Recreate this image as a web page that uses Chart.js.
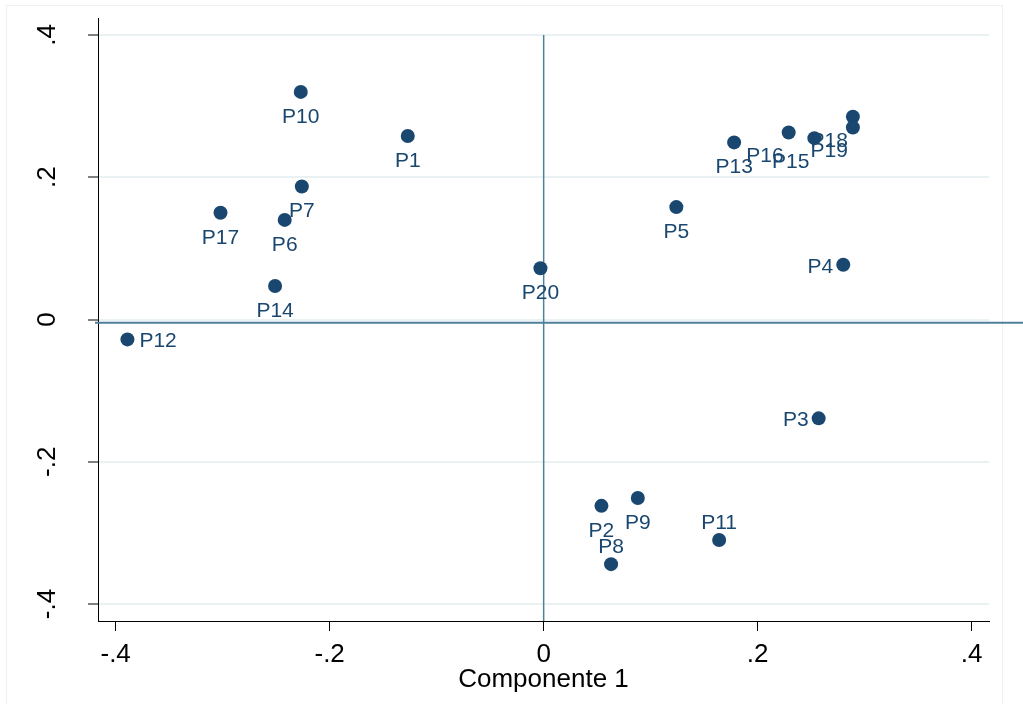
<!DOCTYPE html>
<html>
<head>
<meta charset="utf-8">
<script src="https://cdn.jsdelivr.net/npm/chart.js@4"></script>
<style>
  html, body { margin: 0; padding: 0; background: #ffffff; }
  #wrap { width: 1023px; height: 704px; }
</style>
</head>
<body>
<div id="wrap"><canvas id="c" width="1023" height="704"></canvas></div>
<script>
// ---- data ----
const pointLabels = ['P1','P2','P3','P4','P5','P6','P7','P8','P9','P10',
                     'P11','P12','P13','P14','P15','P16','P17','P18','P19','P20'];
const comp1 = [-0.127, 0.054, 0.257, 0.280, 0.124, -0.242, -0.226, 0.063, 0.088, -0.227,
                0.164, -0.389, 0.178, -0.251, 0.253, 0.229, -0.302, 0.289, 0.289, -0.003];
const comp2 = [0.258, -0.262, -0.139, 0.077, 0.158, 0.140, 0.187, -0.344, -0.251, 0.320,
               -0.310, -0.028, 0.249, 0.047, 0.255, 0.263, 0.150, 0.285, 0.270, 0.072];
// label position (clock style): 3 right, 6 below, 7 lower-left, 9 left, 12 above
const labelPos = [6, 6, 9, 9, 6, 6, 6, 12, 6, 6,
                  12, 3, 6, 6, 7, 7, 6, 7, 7, 6];
const xTicks = [-0.4, -0.2, 0, 0.2, 0.4];
const xTickLabels = ['-.4', '-.2', '0', '.2', '.4'];
const yTicks = [-0.4, -0.2, 0, 0.2, 0.4];
const yTickLabels = ['-.4', '-.2', '0', '.2', '.4'];
const xTitle = 'Componente 1';
const xRefLine = 0;
const yRefLine = -0.0046;

const NAVY = '#1a476f';
const FONT = "'Liberation Sans', Arial, sans-serif";

const points = comp1.map((x, i) => ({ x: x, y: comp2[i] }));

const stataPlugin = {
  id: 'stata',
  beforeDraw(chart) {
    const ctx = chart.ctx;
    ctx.save();
    ctx.fillStyle = '#ffffff';
    ctx.fillRect(0, 0, chart.width, chart.height);
    ctx.strokeStyle = '#f0f0f0';
    ctx.lineWidth = 1;
    ctx.strokeRect(6.5, 5.5, 996, 720);
    ctx.restore();
  },
  beforeDatasetsDraw(chart) {
    const ctx = chart.ctx;
    const xs = chart.scales.x, ys = chart.scales.y;
    const area = chart.chartArea;
    ctx.save();
    ctx.strokeStyle = '#4e809b';
    // vertical reference line
    ctx.lineWidth = 1.5;
    const vx = xs.getPixelForValue(xRefLine);
    ctx.beginPath();
    ctx.moveTo(vx, ys.getPixelForValue(0.4));
    ctx.lineTo(vx, area.bottom);
    ctx.stroke();
    // horizontal reference line
    ctx.lineWidth = 2;
    const hy = ys.getPixelForValue(yRefLine);
    ctx.beginPath();
    ctx.moveTo(area.left - 3, hy);
    ctx.lineTo(chart.width, hy);
    ctx.stroke();
    ctx.restore();
  },
  afterDatasetsDraw(chart) {
    const ctx = chart.ctx;
    const meta = chart.getDatasetMeta(0);
    ctx.save();
    ctx.fillStyle = NAVY;
    ctx.font = '21px ' + FONT;
    ctx.textBaseline = 'alphabetic';
    meta.data.forEach((el, i) => {
      const p = el.getProps(['x', 'y'], true);
      const pos = labelPos[i];
      let tx = p.x, ty = p.y;
      if (pos === 6) { ctx.textAlign = 'center'; ty = p.y + 31; }
      else if (pos === 12) { ctx.textAlign = 'center'; ty = p.y - 11; }
      else if (pos === 3) { ctx.textAlign = 'left'; tx = p.x + 12; ty = p.y + 8; }
      else if (pos === 9) { ctx.textAlign = 'right'; tx = p.x - 10; ty = p.y + 8; }
      else if (pos === 7) { ctx.textAlign = 'right'; tx = p.x - 5; ty = p.y + 30; }
      ctx.fillText(pointLabels[i], tx, ty);
    });
    ctx.restore();
  },
  afterDraw(chart) {
    const ctx = chart.ctx;
    const xs = chart.scales.x, ys = chart.scales.y;
    const area = chart.chartArea;
    ctx.save();
    ctx.fillStyle = '#000000';
    ctx.font = '26px ' + FONT;
    ctx.textBaseline = 'alphabetic';
    ctx.textAlign = 'center';
    xTicks.forEach((v, i) => {
      ctx.fillText(xTickLabels[i], xs.getPixelForValue(v), 662);
    });
    ctx.fillText(xTitle, (area.left + area.right) / 2, 687);
    yTicks.forEach((v, i) => {
      ctx.save();
      ctx.translate(55, ys.getPixelForValue(v));
      ctx.rotate(-Math.PI / 2);
      ctx.fillText(yTickLabels[i], 0, 0);
      ctx.restore();
    });
    ctx.restore();
  }
};

new Chart(document.getElementById('c'), {
  type: 'scatter',
  data: {
    datasets: [{
      data: points,
      backgroundColor: NAVY,
      borderWidth: 0,
      pointRadius: 7,
      pointHoverRadius: 7
    }]
  },
  plugins: [stataPlugin],
  options: {
    responsive: false,
    animation: false,
    events: [],
    devicePixelRatio: 1,
    layout: { padding: { left: 0, right: 34, top: 18, bottom: 0 } },
    plugins: { legend: { display: false }, tooltip: { enabled: false } },
    scales: {
      x: {
        type: 'linear',
        min: -0.4165,
        max: 0.4162,
        afterBuildTicks: s => { s.ticks = xTicks.map(v => ({ value: v })); },
        afterFit: s => { s.height = 83; },
        ticks: { display: false },
        grid: {
          color: 'rgba(0,0,0,0)',
          tickColor: '#000000',
          tickLength: 10,
          tickWidth: 1,
          drawTicks: true
        },
        border: { display: true, color: '#000000', width: 1 }
      },
      y: {
        type: 'linear',
        min: -0.4239,
        max: 0.4239,
        afterBuildTicks: s => { s.ticks = yTicks.map(v => ({ value: v })); },
        afterFit: s => { s.width = 98; },
        ticks: { display: false },
        grid: {
          color: '#eaf1f2',
          lineWidth: 2,
          tickColor: '#000000',
          tickLength: 10,
          tickWidth: 1,
          drawTicks: true
        },
        border: { display: true, color: '#000000', width: 1 }
      }
    }
  }
});
</script>
</body>
</html>
